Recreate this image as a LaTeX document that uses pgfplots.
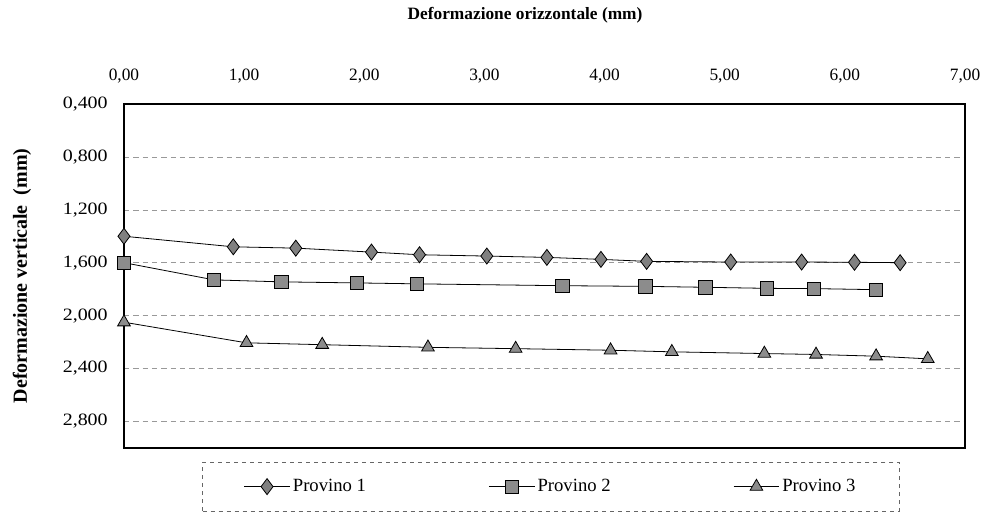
\documentclass[border=0pt]{standalone}
\usepackage{pgfplots}
\pgfplotsset{compat=1.18}
\usepackage{fontspec}
\setmainfont{Liberation Serif}

% Provino 1, 2, 3: x = deformazione orizzontale, y = deformazione verticale (mm)
\pgfplotstableread{
x y
0.00 1.40
0.91 1.48
1.43 1.49
2.06 1.52
2.46 1.54
3.02 1.55
3.52 1.56
3.97 1.575
4.35 1.59
5.05 1.595
5.64 1.595
6.08 1.597
6.46 1.60
}\provuno
\pgfplotstableread{
x y
0.00 1.60
0.75 1.73
1.31 1.745
1.94 1.753
2.44 1.76
3.65 1.774
4.34 1.779
4.84 1.786
5.35 1.794
5.74 1.796
6.26 1.804
}\provdue
\pgfplotstableread{
x y
0.00 2.05
1.02 2.206
1.65 2.22
2.53 2.24
3.26 2.25
4.05 2.262
4.56 2.274
5.33 2.287
5.76 2.294
6.26 2.307
6.69 2.327
}\provtre

\begin{document}
\begin{tikzpicture}
\begin{axis}[
  scale only axis, width=631pt, height=258pt,
  xmin=0, xmax=7, ymin=0.4, ymax=3.0, y dir=reverse,
  xtick={0,1,...,7}, ytick={0.4,0.8,1.2,1.6,2.0,2.4,2.8},
  xticklabel pos=upper,
  axis line style={black, line width=1.2pt},
  tick style={draw=none},
  ymajorgrids, grid style={gray!80, line width=0.4pt, dash pattern=on 4pt off 3pt},
  /pgf/number format/assume math mode=true,
  xticklabel style={font=\fontsize{13}{15}\selectfont, anchor=center, yshift=21pt,
    /pgf/number format/.cd, fixed, fixed zerofill, precision=2, use comma},
  yticklabel style={font=\fontsize{13}{15}\selectfont, anchor=east, inner sep=0pt,
    xshift=-12pt, xscale=1.15,
    /pgf/number format/.cd, fixed, fixed zerofill, precision=3, use comma},
  ylabel={Deformazione verticale\ \ (mm)},
  ylabel style={font=\fontsize{15}{17}\selectfont\bfseries,
    at={(axis description cs:-0.1212,0.5)}, anchor=center},
  legend columns=3,
  legend style={at={(0.5077,-0.0407)}, anchor=north, draw=black!60, dashed, line width=0.4pt,
    font=\fontsize{14}{16}\selectfont, inner xsep=31pt, inner ysep=11pt,
    /tikz/every even column/.append style={column sep=90pt}},
  legend cell align=left,
  legend image code/.code={\draw[#1, solid, mark=none] (0cm,0cm) -- (1.2cm,0cm);
    \draw[#1, solid, only marks] plot coordinates {(0.6cm,0cm)};},
]
\addplot[black, line width=0.6pt, mark=diamond*, mark size=6pt,
  mark options={fill=black!50, draw=black, solid}] table {\provuno};
\addplot[black, line width=0.6pt, mark=square*, mark size=5pt,
  mark options={fill=black!45, draw=black, solid}] table {\provdue};
\addplot[black, line width=0.6pt, mark=triangle*, mark size=5.5pt,
  mark options={fill=black!45, draw=black, solid}] table {\provtre};
\legend{Provino 1, Provino 2, Provino 3}
\end{axis}
\node[font=\fontsize{13}{15}\selectfont\bfseries]
  at ([xshift=-14.6pt, yshift=66.75pt]current axis.north) {Deformazione orizzontale (mm)};
\pgfresetboundingbox
\path ([xshift=-93pt, yshift=-51.75pt]current axis.south west)
  rectangle ([xshift=16.5pt, yshift=78pt]current axis.north east);
\end{tikzpicture}
\end{document}
